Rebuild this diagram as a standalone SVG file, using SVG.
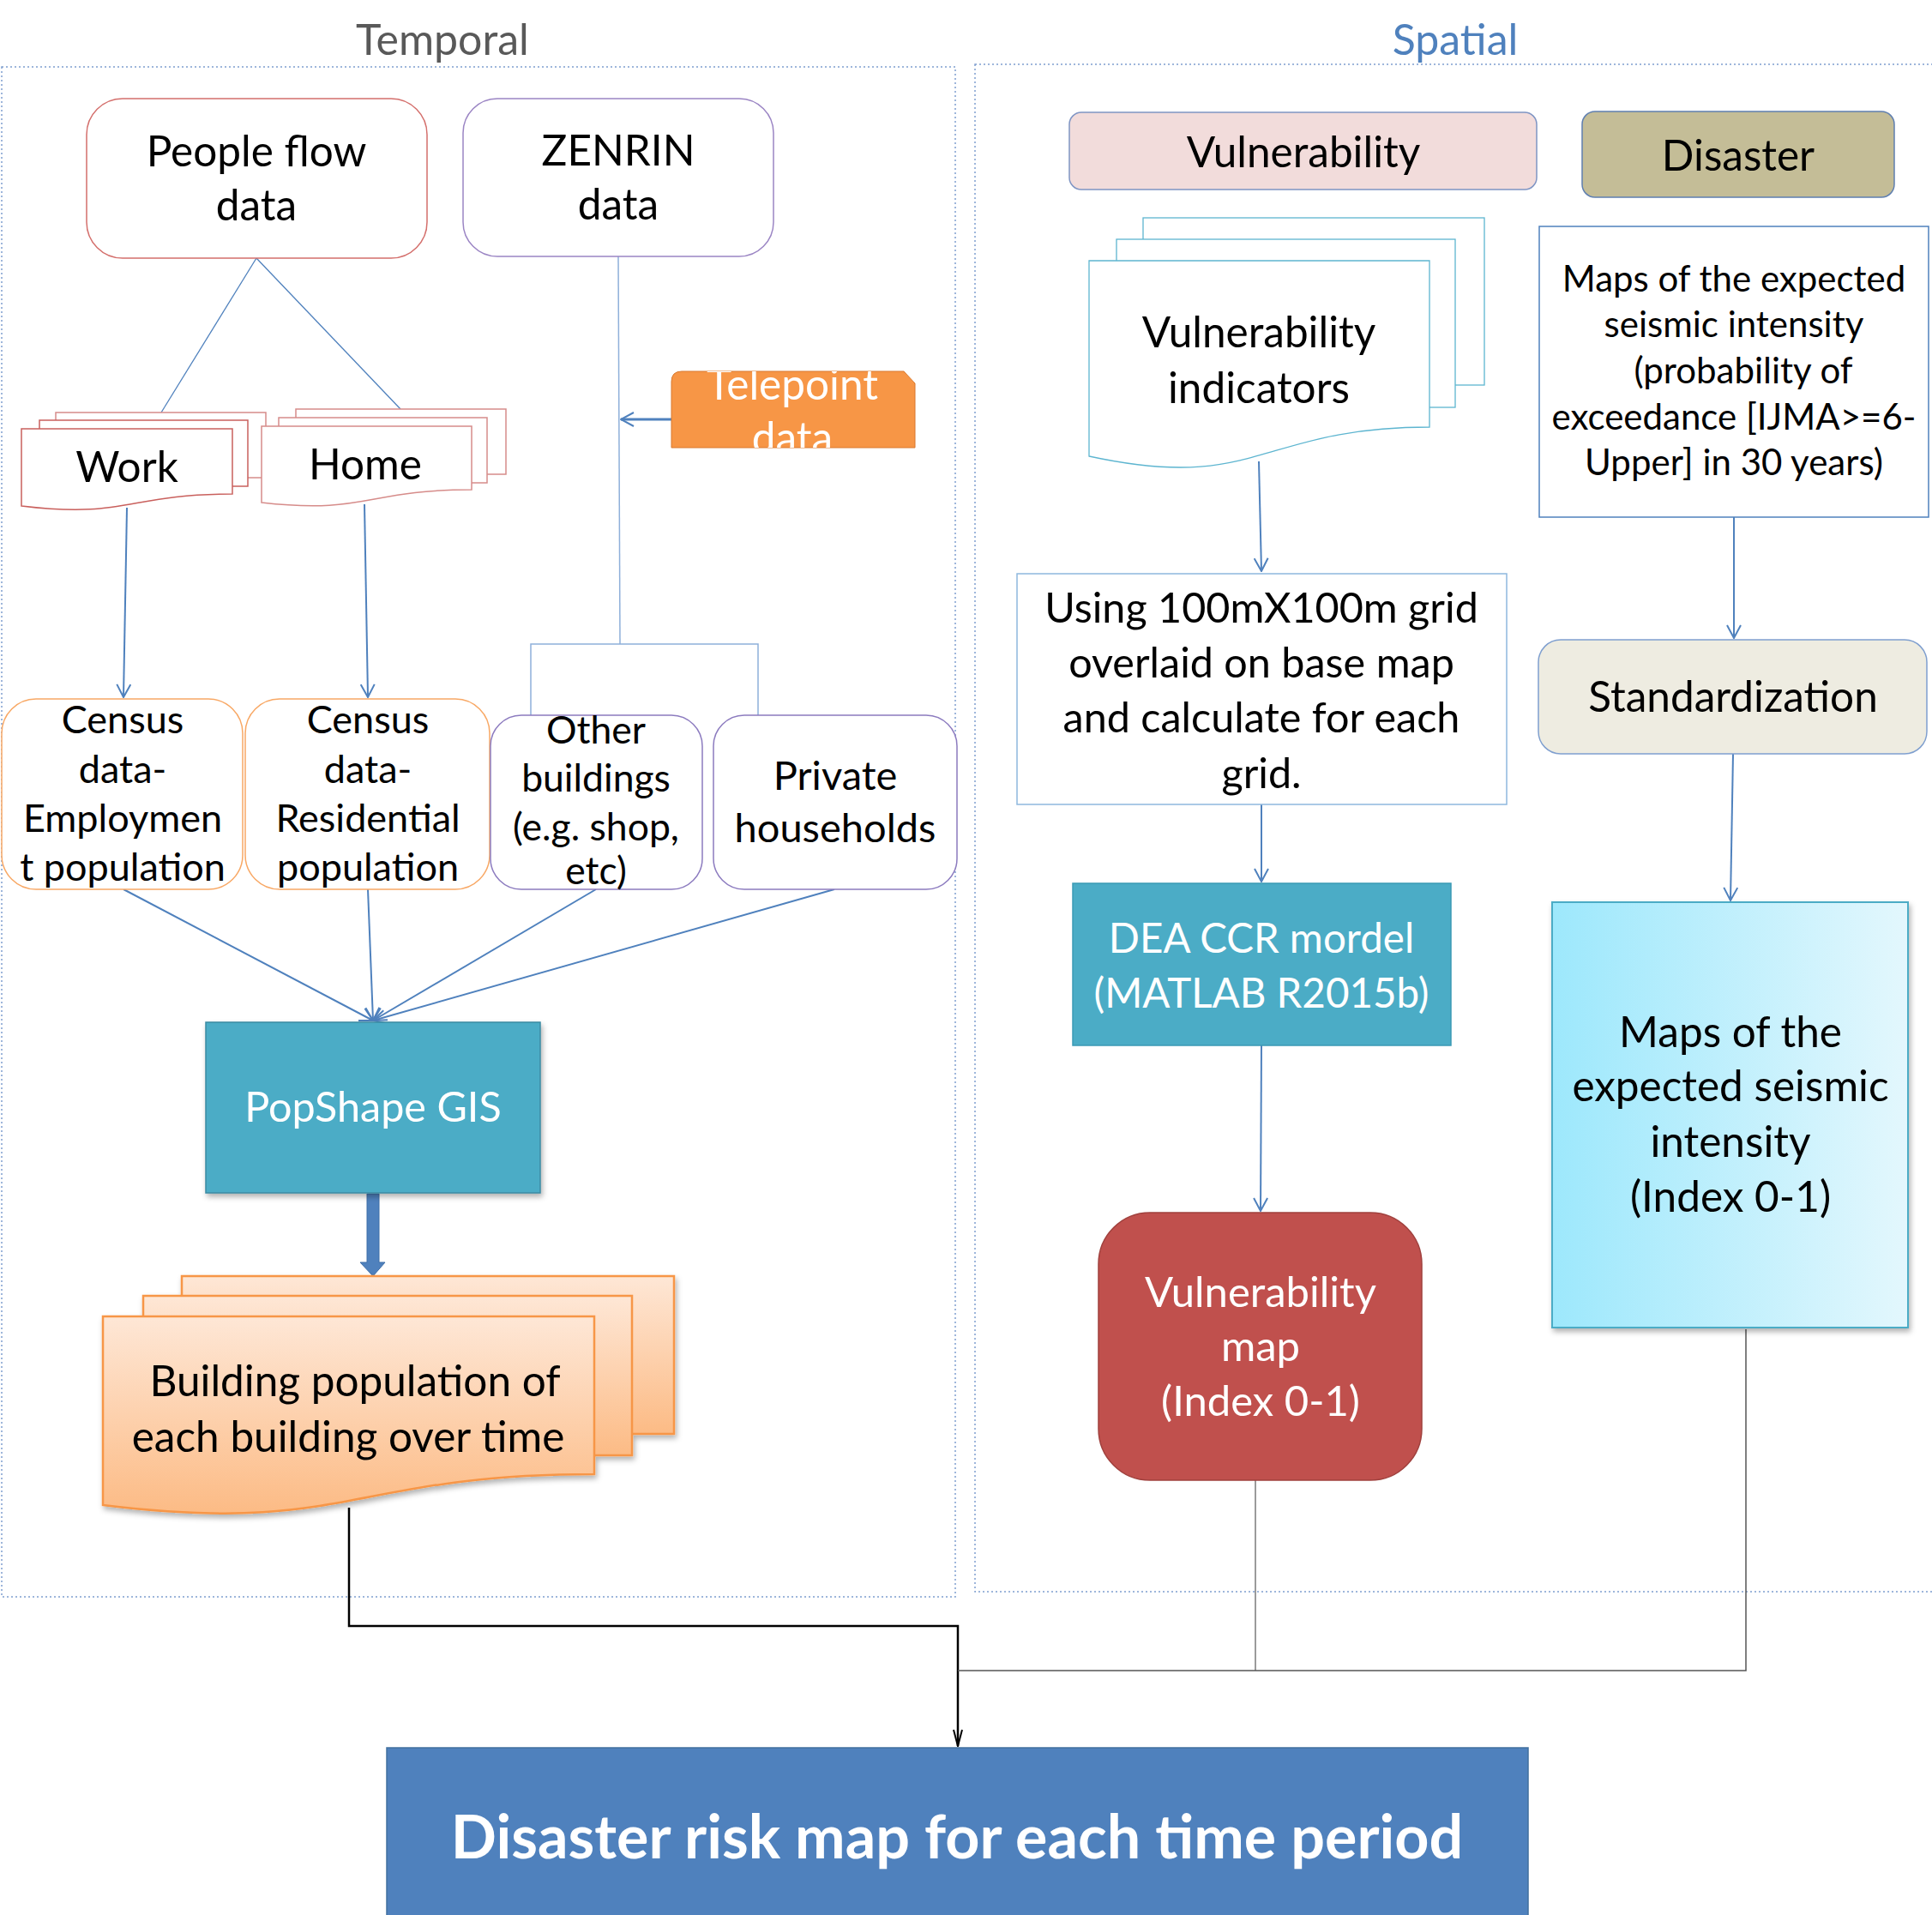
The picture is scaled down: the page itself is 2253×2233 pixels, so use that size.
<svg xmlns="http://www.w3.org/2000/svg" width="2253" height="2233" viewBox="0 0 2253 2233">
<style>
text{font-family:Lato,"Liberation Sans",sans-serif;text-anchor:middle;fill:#000}
.t47{font-size:49.5px}
.t42{font-size:45px}
.t41{font-size:44.5px}
.t40{font-size:42px}
.w{fill:#fff}
.c{fill:none;stroke:#4f81bd;stroke-width:2}
.ct{fill:none;stroke:#4f81bd;stroke-width:1.3}
.cz{fill:none;stroke:#8fb0da;stroke-width:1.5}
.g{fill:none;stroke:#7a7a7a;stroke-width:1.5}
.k{fill:none;stroke:#000;stroke-width:2.5}
.frame{fill:none;stroke:#7f9fcf;stroke-width:1.5;stroke-dasharray:2 3}
</style>
<defs>
<marker id="ah" viewBox="-17 -9 18 18" refX="0" refY="0" markerWidth="18" markerHeight="18" markerUnits="userSpaceOnUse" orient="auto">
<path d="M-15,-8 L0,0 L-15,8" fill="none" stroke="#4f81bd" stroke-width="2"/>
</marker>
<marker id="ahk" viewBox="-20 -7 21 14" refX="0" refY="0" markerWidth="21" markerHeight="14" markerUnits="userSpaceOnUse" orient="auto">
<path d="M-19,-5 L0,0 L-19,5" fill="none" stroke="#000" stroke-width="2"/>
</marker>
<linearGradient id="peach" x1="0" y1="0" x2="0" y2="1">
<stop offset="0" stop-color="#fee7d6"/>
<stop offset="1" stop-color="#fcbb85"/>
</linearGradient>
<linearGradient id="cyan" x1="0" y1="0" x2="1" y2="0">
<stop offset="0" stop-color="#9de8fc"/>
<stop offset="1" stop-color="#e3f7fd"/>
</linearGradient>
<filter id="sh" x="-10%" y="-10%" width="130%" height="130%">
<feDropShadow dx="2" dy="4" stdDeviation="3" flood-color="#000" flood-opacity="0.3"/>
</filter>
<clipPath id="tpclip"><path d="M783,522 V445 Q783,433 795,433 H1054 L1067,447 V522 Z"/></clipPath>
</defs>

<rect width="2253" height="2233" fill="#fff"/>

<g id="frames">
<rect class="frame" x="2" y="78" width="1112" height="1784"/>
<rect class="frame" x="1137" y="75" width="1130" height="1781"/>
<text x="516" y="64" style="font-size:50px;fill:#595959">Temporal</text>
<text x="1697" y="64" style="font-size:50px;fill:#4f81bd">Spatial</text>
</g>

<g id="connectors">
<line class="ct" x1="299" y1="301" x2="188" y2="481"/>
<line class="ct" x1="299" y1="301" x2="467" y2="477"/>
<line class="c" x1="148" y1="592" x2="144" y2="813" marker-end="url(#ah)"/>
<line class="c" x1="425" y1="588" x2="429" y2="813" marker-end="url(#ah)"/>
<polyline class="cz" points="721,299 723,751"/>
<polyline class="cz" points="619,834 619,751 884,751 884,834"/>
<line x1="783" y1="489" x2="724" y2="489" stroke="#4f81bd" stroke-width="3" marker-end="url(#ah)"/>
<line class="c" stroke-width="2.5" x1="144" y1="1037" x2="435" y2="1190" marker-end="url(#ah)"/>
<line class="c" stroke-width="2.5" x1="429" y1="1037" x2="435" y2="1190" marker-end="url(#ah)"/>
<line class="c" stroke-width="2.5" x1="695" y1="1037" x2="435" y2="1190" marker-end="url(#ah)"/>
<line class="c" stroke-width="2.5" x1="973" y1="1037" x2="435" y2="1190" marker-end="url(#ah)"/>
<path d="M428,1392 H442 V1472 H449 L435,1488 L420,1472 H428 Z" fill="#4f81bd" stroke="#3f6ea8" stroke-width="1"/>
<line class="c" x1="1468" y1="538" x2="1471" y2="666" marker-end="url(#ah)"/>
<line class="c" x1="1471" y1="938" x2="1471" y2="1028" marker-end="url(#ah)"/>
<line class="c" x1="1471" y1="1219" x2="1470" y2="1412" marker-end="url(#ah)"/>
<line class="c" x1="2022" y1="603" x2="2022" y2="744" marker-end="url(#ah)"/>
<line class="c" x1="2021" y1="879" x2="2018" y2="1050" marker-end="url(#ah)"/>
<polyline class="k" points="407,1758 407,1896 1117,1896 1117,2036" marker-end="url(#ahk)"/>
<polyline class="g" points="1464,1726 1464,1948"/>
<polyline class="g" points="2036,1550 2036,1948 1117,1948" style="stroke:#555"/>
</g>

<g id="people-flow">
<rect x="101" y="115" width="397" height="186" rx="42" fill="#fff" stroke="#d46f6c" stroke-width="1.5"/>
<text class="t47" x="299" y="194">People flow</text>
<text class="t47" x="299" y="257">data</text>
</g>

<g id="zenrin">
<rect x="540" y="115" width="362" height="184" rx="40" fill="#fff" stroke="#9b85c4" stroke-width="1.5"/>
<text class="t47" x="721" y="193">ZENRIN</text>
<text class="t47" x="721" y="256">data</text>
</g>

<g id="telepoint">
<path d="M783,522 V445 Q783,433 795,433 H1054 L1067,447 V522 Z" fill="#f79646" stroke="#d9792e" stroke-width="1"/>
<g clip-path="url(#tpclip)">
<text class="w" x="924" y="466" style="font-size:49.5px">Telepoint</text>
<text class="w" x="924" y="528" style="font-size:49.5px">data</text>
</g>
</g>

<g id="work">
<rect x="65" y="481" width="245" height="76" fill="#fff" stroke="#d68c8a" stroke-width="1.5"/>
<rect x="46" y="490" width="243" height="77" fill="#fff" stroke="#c9605d" stroke-width="1.5"/>
<path d="M25,500 H271 V576 C148,576 148,605 25,590 Z" fill="#fff" stroke="#c9605d" stroke-width="1.5"/>
<text class="t47" x="148" y="562">Work</text>
</g>

<g id="home">
<rect x="345" y="477" width="245" height="76" fill="#fff" stroke="#d68c8a" stroke-width="1.5"/>
<rect x="325" y="487" width="243" height="76" fill="#fff" stroke="#d68c8a" stroke-width="1.5"/>
<path d="M305,497 H550 V571 C427,571 427,600 305,586 Z" fill="#fff" stroke="#d68c8a" stroke-width="1.5"/>
<text class="t47" x="426" y="559">Home</text>
</g>

<g id="census-employment">
<rect x="2" y="815" width="281" height="222" rx="40" fill="#fff" stroke="#f8a865" stroke-width="1.5"/>
<text class="t42" x="143" y="855">Census</text>
<text class="t42" x="143" y="913">data-</text>
<text class="t42" x="143" y="970">Employmen</text>
<text class="t42" x="143" y="1027">t population</text>
</g>

<g id="census-residential">
<rect x="286" y="815" width="285" height="222" rx="40" fill="#fff" stroke="#f8a865" stroke-width="1.5"/>
<text class="t42" x="429" y="855">Census</text>
<text class="t42" x="429" y="913">data-</text>
<text class="t42" x="429" y="970">Residential</text>
<text class="t42" x="429" y="1027">population</text>
</g>

<g id="other-buildings">
<rect x="572" y="834" width="247" height="203" rx="36" fill="#fff" stroke="#8c7bbf" stroke-width="1.5"/>
<text class="t41" x="695" y="867">Other</text>
<text class="t41" x="695" y="923">buildings</text>
<text class="t41" x="695" y="980">(e.g. shop,</text>
<text class="t41" x="695" y="1031">etc)</text>
</g>

<g id="private-households">
<rect x="832" y="834" width="284" height="203" rx="36" fill="#fff" stroke="#8c7bbf" stroke-width="1.5"/>
<text x="974" y="921" style="font-size:47px">Private</text>
<text x="974" y="982" style="font-size:47px">households</text>
</g>

<g id="popshape">
<rect x="240" y="1192" width="390" height="199" fill="#4bacc6" stroke="#3b8aa3" stroke-width="1.5" filter="url(#sh)"/>
<text class="w" x="435" y="1308" style="font-size:48.5px">PopShape GIS</text>
</g>

<g id="building-population">
<g filter="url(#sh)">
<rect x="212" y="1488" width="574" height="184" fill="url(#peach)" stroke="#f79646" stroke-width="2.5"/>
<rect x="167" y="1511" width="570" height="186" fill="url(#peach)" stroke="#f79646" stroke-width="2.5"/>
<path d="M120,1535 H693 V1719 C407,1719 407,1790 120,1755 Z" fill="url(#peach)" stroke="#f79646" stroke-width="2.5"/>
</g>
<text class="t47" x="414" y="1628">Building population of</text>
<text class="t47" x="406" y="1693">each building over time</text>
</g>

<g id="vulnerability-header">
<rect x="1247" y="131" width="545" height="90" rx="14" fill="#f2dcdb" stroke="#7f95c4" stroke-width="1.5"/>
<text class="t47" x="1520" y="195">Vulnerability</text>
</g>

<g id="disaster-header">
<rect x="1845" y="130" width="364" height="100" rx="15" fill="#c4bd97" stroke="#5f7fb0" stroke-width="1.5"/>
<text class="t47" x="2027" y="199">Disaster</text>
</g>

<g id="vulnerability-indicators">
<rect x="1333" y="254" width="398" height="195" fill="#fff" stroke="#5db5d0" stroke-width="1.3"/>
<rect x="1302" y="279" width="395" height="196" fill="#fff" stroke="#5db5d0" stroke-width="1.3"/>
<path d="M1270,304 H1667 V498 C1468,498 1468,575 1270,532 Z" fill="#fff" stroke="#5db5d0" stroke-width="1.3"/>
<text class="t47" x="1468" y="405">Vulnerability</text>
<text class="t47" x="1468" y="470">indicators</text>
</g>

<g id="grid-overlay">
<rect x="1186" y="669" width="571" height="269" fill="#fff" stroke="#8fb8de" stroke-width="1.5"/>
<text class="t47" x="1471" y="726" style="font-size:48.5px">Using 100mX100m grid</text>
<text class="t47" x="1471" y="790" style="font-size:48.5px">overlaid on base map</text>
<text class="t47" x="1471" y="854" style="font-size:48.5px">and calculate for each</text>
<text class="t47" x="1471" y="919" style="font-size:48.5px">grid.</text>
</g>

<g id="dea">
<rect x="1251" y="1030" width="441" height="189" fill="#4bacc6" stroke="#3b9ab5" stroke-width="1.5"/>
<text class="w" x="1471" y="1111" style="font-size:47.5px">DEA CCR mordel</text>
<text class="w" x="1471" y="1175" style="font-size:47.5px">(MATLAB R2015b)</text>
</g>

<g id="vulnerability-map">
<rect x="1281" y="1414" width="377" height="312" rx="60" fill="#c0504d" stroke="#a0403d" stroke-width="1.5"/>
<text class="w" x="1470" y="1524" style="font-size:49px">Vulnerability</text>
<text class="w" x="1470" y="1587" style="font-size:49px">map</text>
<text class="w" x="1470" y="1651" style="font-size:49px">(Index 0-1)</text>
</g>

<g id="seismic-maps">
<rect x="1795" y="264" width="454" height="339" fill="#fff" stroke="#4f81bd" stroke-width="1.5"/>
<text class="t40" x="2022" y="340">Maps of the expected</text>
<text class="t40" x="2022" y="393">seismic intensity</text>
<text class="t40" x="2033" y="447">(probability of</text>
<text class="t40" x="2022" y="501">exceedance [IJMA&gt;=6-</text>
<text class="t40" x="2022" y="554">Upper] in 30 years)</text>
</g>

<g id="standardization">
<rect x="1794" y="746" width="453" height="133" rx="26" fill="#eeece1" stroke="#7f9fcf" stroke-width="1.5"/>
<text class="t47" x="2021" y="830">Standardization</text>
</g>

<g id="seismic-index">
<rect x="1810" y="1052" width="415" height="496" fill="url(#cyan)" stroke="#4bacc6" stroke-width="2" filter="url(#sh)"/>
<text class="t47" x="2018" y="1221">Maps of the</text>
<text class="t47" x="2018" y="1284">expected seismic</text>
<text class="t47" x="2018" y="1349">intensity</text>
<text class="t47" x="2018" y="1413">(Index 0-1)</text>
</g>

<g id="disaster-risk-map">
<rect x="451" y="2038" width="1331" height="200" fill="#4f81bd" stroke="#41709f" stroke-width="1.5"/>
<text class="w" x="1116" y="2167" style="font-size:70px;font-weight:bold">Disaster risk map for each time period</text>
</g>
</svg>
